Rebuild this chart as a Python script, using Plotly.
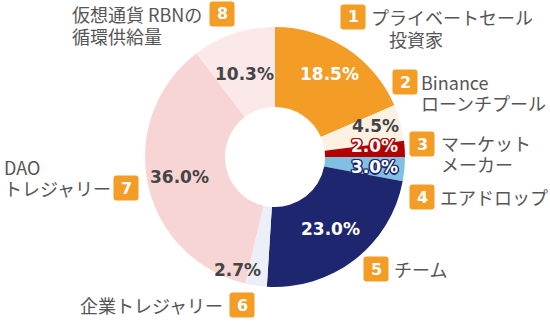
import math
import plotly.graph_objects as go

# ---- data ----
categories = ["プライベートセール投資家", "Binanceローンチプール", "マーケットメーカー",
              "エアドロップ", "チーム", "企業トレジャリー", "DAOトレジャリー",
              "仮想通貨 RBNの循環供給量"]
shares = [18.5, 4.5, 2.0, 3.0, 23.0, 2.7, 36.0, 10.3]
numbers = ["1", "2", "3", "4", "5", "6", "7", "8"]
label_lines = [["プライベートセール", "　投資家"], ["Binance", "ローンチプール"],
               ["マーケット", "メーカー"], ["エアドロップ"], ["チーム"], ["企業トレジャリー"],
               ["DAO", "トレジャリー"], ["仮想通貨 RBNの", "循環供給量"]]

# ---- style ----
colors = ["#F39C26", "#FDF1E4", "#B30000", "#7FC0E3", "#1F2670", "#ECEEF8", "#F8D5D5", "#FBE9E9"]
badge_color = "#F39C26"
pct_colors = ["white", "#444444", "white", "white", "white", "#444444", "#444444", "#444444"]
outline_colors = [None, None, "#B30000", "#1F2670", None, None, None, None]
label_r = [0.76, 0.80, 0.77, 0.77, 0.70, 0.88, 0.75, 0.70]
label_anchor = ["center", "center", "center", "center", "center", "right", "center", "center"]
label_xshift = [0, 0, 0, 0, 0, 5, 0, -2]
label_yshift = [0, 4, 5, -1, 0, 0, 0, -3]

W, H = 550, 323
ML, MR, MT, MB = 145, 145, 27, 36
PW, PH = W - ML - MR, H - MT - MB
CX, CY = ML + PW / 2, MT + PH / 2
R = min(PW, PH) / 2


def px(x):
    return (x - ML) / PW


def py(y):
    return (H - MB - y) / PH


fig = go.Figure(go.Pie(
    values=shares, labels=categories, sort=False, direction="clockwise", rotation=0,
    hole=0.385, marker=dict(colors=colors, line=dict(width=0)),
    textinfo="none", hoverinfo="label+percent", showlegend=False,
))

annotations = []
cum = 0.0
total = sum(shares)
for i, v in enumerate(shares):
    mid = (cum + v / 2) / total
    cum += v
    th = 2 * math.pi * mid
    r = R * label_r[i]
    x = CX + r * math.sin(th)
    y = CY - r * math.cos(th)
    font = dict(family="DejaVu Sans", size=17, color=pct_colors[i], weight="bold")
    if outline_colors[i]:
        c = outline_colors[i]
        font["shadow"] = ", ".join(f"{dx}px {dy}px 0 {c}" for dx, dy in
                                   [(-1, -1), (1, -1), (-1, 1), (1, 1), (0, 1.5), (1.5, 0), (-1.5, 0), (0, -1.5)])
    annotations.append(dict(x=px(x), y=py(y), xref="paper", yref="paper",
                            text=f"<b>{v:.1f}%</b>", showarrow=False, font=font,
                            xanchor=label_anchor[i], yanchor="middle",
                            xshift=label_xshift[i], yshift=label_yshift[i]))

# category labels with numbered badges (pixel layout)
badge_pos = [(353, 17), (405, 82), (422, 144), (422, 197), (376, 269), (242, 305), (126, 188), (222, 14)]
text_x = [(369, "left"), (419, "left"), (439, "left"), (438, "left"),
          (392, "left"), (225, "right"), (2, "left"), (70, "left")]
line_y = [[17, 39], [82, 103], [143, 164], [197], [269], [305], [167, 188], [14, 36]]

shapes = []
bs = 12.5
rr = 3
for (bx, by), n in zip(badge_pos, numbers):
    x0, x1, y0, y1 = bx - bs, bx + bs, by - bs, by + bs
    path = (f"M {px(x0 + rr)} {py(y0)} L {px(x1 - rr)} {py(y0)} "
            f"Q {px(x1)} {py(y0)} {px(x1)} {py(y0 + rr)} L {px(x1)} {py(y1 - rr)} "
            f"Q {px(x1)} {py(y1)} {px(x1 - rr)} {py(y1)} L {px(x0 + rr)} {py(y1)} "
            f"Q {px(x0)} {py(y1)} {px(x0)} {py(y1 - rr)} L {px(x0)} {py(y0 + rr)} "
            f"Q {px(x0)} {py(y0)} {px(x0 + rr)} {py(y0)} Z")
    shapes.append(dict(type="path", path=path, xref="paper", yref="paper",
                       fillcolor=badge_color, line=dict(width=0), layer="above"))
    annotations.append(dict(x=px(bx), y=py(by), xref="paper", yref="paper",
                            text=f"<b>{n}</b>", showarrow=False,
                            font=dict(family="DejaVu Sans", size=16, color="white", weight="bold"),
                            xanchor="center", yanchor="middle"))

for (tx, anc), lines, ys in zip(text_x, label_lines, line_y):
    for t, ty in zip(lines, ys):
        annotations.append(dict(x=px(tx), y=py(ty), xref="paper", yref="paper",
                                text=t, showarrow=False, align="left",
                                font=dict(family="Noto Sans CJK JP", size=18, color="#555555"),
                                xanchor=anc, yanchor="middle"))

fig.update_layout(
    width=W, height=H, margin=dict(l=ML, r=MR, t=MT, b=MB),
    paper_bgcolor="white", plot_bgcolor="white",
    annotations=annotations, shapes=shapes,
)

fig.write_html("out.html")
